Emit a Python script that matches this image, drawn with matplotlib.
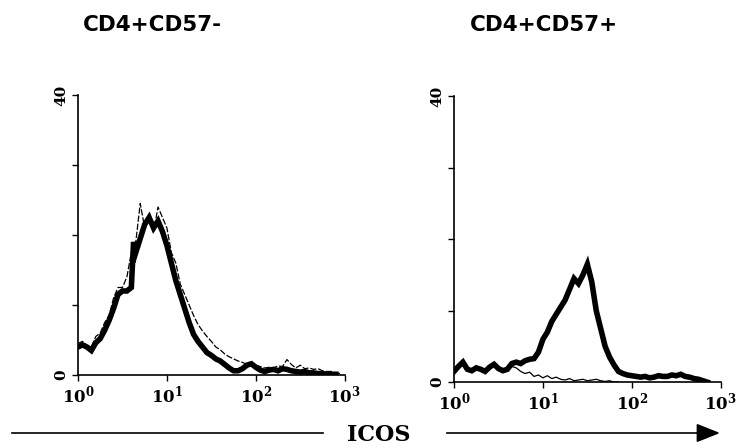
import numpy as np
import matplotlib
matplotlib.use('Agg')
import matplotlib.pyplot as plt
from matplotlib.lines import Line2D

# histogram bins given as log10 of ICOS fluorescence
logs_left_stain = [0.00, 0.05, 0.10, 0.15, 0.20, 0.25, 0.30, 0.35, 0.40, 0.45,
                   0.50, 0.55, 0.60, 0.625, 0.65, 0.70, 0.75, 0.80, 0.85, 0.90,
                   0.95, 1.00, 1.05, 1.10, 1.15, 1.20, 1.25, 1.30, 1.35, 1.40,
                   1.45, 1.50, 1.55, 1.60, 1.65, 1.70, 1.75, 1.80, 1.85, 1.90,
                   1.95, 2.00, 2.05, 2.10, 2.15, 2.20, 2.25, 2.30, 2.35, 2.40,
                   2.45, 2.50, 2.55, 2.60, 2.65, 2.70, 2.75, 2.80, 2.85, 2.90]
counts_left_stain = [4.0, 4.3, 4.0, 3.5, 4.6, 5.2, 6.4, 7.8, 9.5, 11.5,
                     12.0, 12.0, 12.5, 19.0, 17.5, 19.5, 21.5, 22.5, 21.0, 22.0,
                     20.5, 18.5, 16.0, 13.5, 11.5, 9.5, 7.5, 5.8, 4.8, 4.0,
                     3.2, 2.8, 2.3, 2.0, 1.5, 1.0, 0.6, 0.6, 0.9, 1.4,
                     1.6, 1.1, 0.7, 0.5, 0.7, 0.8, 0.6, 0.9, 0.8, 0.6,
                     0.5, 0.4, 0.5, 0.3, 0.3, 0.2, 0.2, 0.1, 0.1, 0.1]

logs_left_ctrl = [0.00, 0.05, 0.10, 0.15, 0.20, 0.25, 0.30, 0.35, 0.40, 0.45,
                  0.50, 0.55, 0.60, 0.65, 0.70, 0.75, 0.80, 0.85, 0.90, 0.95,
                  1.00, 1.05, 1.10, 1.15, 1.20, 1.25, 1.30, 1.35, 1.40, 1.45,
                  1.50, 1.55, 1.60, 1.65, 1.70, 1.75, 1.80, 1.85, 1.90, 1.95,
                  2.00, 2.05, 2.10, 2.15, 2.20, 2.25, 2.30, 2.35, 2.40, 2.45,
                  2.50, 2.55, 2.60, 2.65, 2.70, 2.75, 2.80, 2.85, 2.90, 2.95]
counts_left_ctrl = [4.5, 4.8, 4.2, 4.0, 5.5, 6.0, 7.5, 8.5, 11.0, 12.5,
                    12.5, 14.0, 17.5, 19.0, 24.5, 21.0, 23.0, 20.5, 24.0, 22.5,
                    21.0, 17.5, 16.0, 13.0, 11.5, 10.0, 8.5, 7.2, 6.3, 5.5,
                    4.8, 4.0, 3.6, 3.0, 2.6, 2.3, 2.0, 1.8, 1.5, 1.8,
                    1.4, 1.2, 1.0, 1.1, 1.0, 1.3, 1.2, 2.2, 1.5, 1.0,
                    1.4, 0.9, 1.0, 0.8, 0.9, 0.6, 0.5, 0.5, 0.3, 0.2]

logs_right_stain = [0.00, 0.05, 0.10, 0.15, 0.20, 0.25, 0.30, 0.35, 0.40, 0.45,
                    0.50, 0.55, 0.60, 0.65, 0.70, 0.75, 0.80, 0.85, 0.90, 0.95,
                    1.00, 1.05, 1.10, 1.15, 1.20, 1.25, 1.30, 1.35, 1.40, 1.45,
                    1.50, 1.55, 1.60, 1.65, 1.70, 1.75, 1.80, 1.85, 1.90, 1.95,
                    2.00, 2.05, 2.10, 2.15, 2.20, 2.25, 2.30, 2.35, 2.40, 2.45,
                    2.50, 2.55, 2.60, 2.65, 2.70, 2.75, 2.80, 2.85]
counts_right_stain = [1.5, 2.2, 2.8, 1.8, 1.6, 2.0, 1.8, 1.5, 2.1, 2.5,
                      1.9, 1.6, 1.8, 2.6, 2.8, 2.6, 3.0, 3.2, 3.3, 4.2,
                      6.0, 7.0, 8.5, 9.5, 10.5, 11.5, 13.0, 14.5, 13.8, 15.0,
                      16.5, 14.0, 10.0, 7.5, 5.0, 3.5, 2.4, 1.5, 1.2, 1.0,
                      0.9, 0.8, 0.7, 0.8, 0.6, 0.7, 0.9, 0.8, 0.8, 1.0,
                      0.9, 1.1, 0.8, 0.7, 0.5, 0.4, 0.2, 0.0]

logs_right_ctrl = [0.00, 0.05, 0.10, 0.15, 0.20, 0.25, 0.30, 0.35, 0.40, 0.45,
                   0.50, 0.55, 0.60, 0.65, 0.70, 0.75, 0.80, 0.85, 0.90, 0.95,
                   1.00, 1.05, 1.10, 1.15, 1.20, 1.25, 1.30, 1.35, 1.40, 1.45,
                   1.50, 1.55, 1.60, 1.65, 1.70, 1.75, 1.80, 1.85]
counts_right_ctrl = [1.2, 2.0, 2.4, 1.6, 1.5, 1.9, 1.6, 1.4, 2.0, 2.3,
                     1.8, 1.5, 1.7, 2.2, 2.0, 1.5, 1.2, 1.4, 0.8, 1.0,
                     0.6, 0.9, 0.5, 0.7, 0.4, 0.3, 0.5, 0.2, 0.3, 0.4,
                     0.2, 0.3, 0.4, 0.2, 0.1, 0.2, 0.0, 0.0]

titles = ['CD4+CD57-', 'CD4+CD57+']
x_ticks = [1, 10, 100, 1000]
x_ticklabels = [r'$\mathbf{10}^{\mathbf{0}}$', r'$\mathbf{10}^{\mathbf{1}}$',
                r'$\mathbf{10}^{\mathbf{2}}$', r'$\mathbf{10}^{\mathbf{3}}$']
y_ticks = [0, 10, 20, 30, 40]
y_ticklabels = ['0', '', '', '', '40']

plt.rcParams['mathtext.fontset'] = 'dejavuserif'

fig = plt.figure(figsize=(7.45, 4.48), dpi=100)
ax1 = fig.add_axes([0.1047, 0.163, 0.358, 0.625])
ax2 = fig.add_axes([0.6094, 0.147, 0.358, 0.638])

# control line: broken on the left panel, plain thin on the right
panels = [(ax1, logs_left_stain, counts_left_stain, logs_left_ctrl, counts_left_ctrl, (0, (5, 1.5))),
          (ax2, logs_right_stain, counts_right_stain, logs_right_ctrl, counts_right_ctrl, '-')]

for ax, ls, cs, lc, cc, style in panels:
    ax.plot(10 ** np.array(lc), cc, color='black', lw=0.9,
            linestyle=style, zorder=3)
    ax.plot(10 ** np.array(ls), cs, color='black', lw=4,
            solid_joinstyle='miter', zorder=2)
    ax.set_xscale('log')
    ax.set_xlim(1, 1000)
    ax.set_ylim(0, 40)
    ax.spines['top'].set_visible(False)
    ax.spines['right'].set_visible(False)
    ax.spines['left'].set_linewidth(1.2)
    ax.spines['bottom'].set_linewidth(1.2)
    ax.set_xticks(x_ticks)
    ax.set_xticklabels(x_ticklabels, fontsize=12)
    ax.xaxis.set_minor_locator(matplotlib.ticker.NullLocator())
    ax.set_yticks(y_ticks)
    ax.set_yticklabels(y_ticklabels, rotation=90, va='center',
                       fontsize=11, family='DejaVu Serif', weight='bold')
    ax.tick_params(direction='out', length=4, width=1.0, pad=3)

fig.text(0.111, 0.944, titles[0], fontsize=15.5, weight='bold', va='center')
fig.text(0.631, 0.944, titles[1], fontsize=15.5, weight='bold', va='center')

# ICOS axis arrow at the bottom
fig.add_artist(Line2D([0.016, 0.4336], [0.0335, 0.0335], color='black', lw=1.2))
fig.text(0.5085, 0.028, 'ICOS', fontsize=16, weight='bold',
         family='DejaVu Serif', ha='center', va='center')
fig.add_artist(Line2D([0.600, 0.940], [0.0335, 0.0335], color='black', lw=1.2))
fig.add_artist(matplotlib.patches.Polygon([[0.936, 0.052], [0.936, 0.015], [0.964, 0.0335]],
                                          closed=True, color='black',
                                          transform=fig.transFigure))

fig.savefig('out.png', dpi=100)
